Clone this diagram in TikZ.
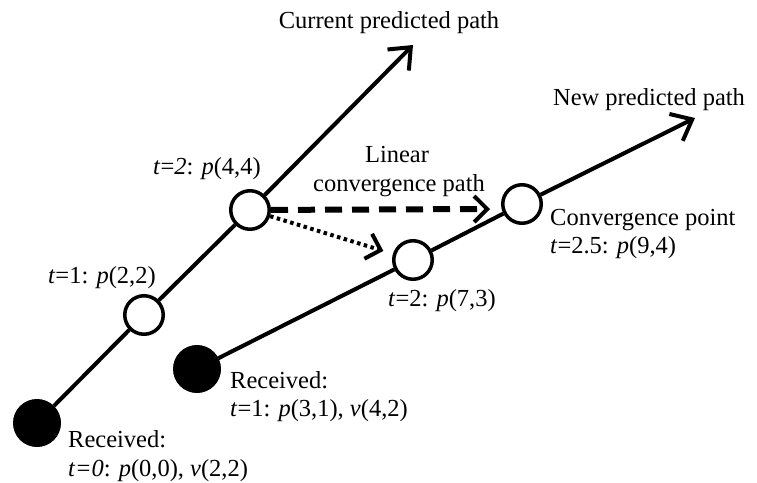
\documentclass[tikz,border=0pt]{standalone}
\usepackage{fontspec}
\setmainfont{Liberation Serif}
\usetikzlibrary{arrows.meta}
\begin{document}
\begin{tikzpicture}[x=1pt,y=-1pt,
  hollow/.style={circle, draw, line width=3.5pt, fill=white, minimum size=38.5pt, inner sep=0pt},
  recv/.style={circle, draw, fill=black, line width=1pt, minimum size=47pt, inner sep=0pt},
  trackline/.style={line width=4pt},
  bigtip/.style={-{Straight Barb[length=18pt,width=30pt,line width=4pt]}},
  smalltip/.style={-{Straight Barb[length=13pt,width=26pt,line width=4pt]}},
  lbl/.style={font=\fontsize{24.5}{28}\selectfont, inner sep=0pt},
]
\useasboundingbox (0,0) rectangle (757,482);

% nodes
\node[recv] (b1) at (37,423) {};
\node[hollow] (c1) at (144,315) {};
\node[hollow] (c2) at (250,210) {};
\coordinate (e1) at (413,45);
\node[recv] (b2) at (197,369) {};
\node[hollow] (c3) at (413,260) {};
\node[hollow] (c4) at (522,204) {};
\coordinate (e2) at (695,118);
\coordinate (d1) at (490,209);

% paths
\draw[trackline] (b1) -- (c1);
\draw[trackline] (c1) -- (c2);
\draw[trackline, bigtip] (c2) -- (e1);
\draw[trackline] (b2) -- (c3);
\draw[trackline] (c3) -- (c4);
\draw[trackline, bigtip] (c4) -- (e2);

\draw[line width=6pt, dash pattern=on 17pt off 10pt, smalltip] (c2) -- (d1);
\draw[line width=4pt, dash pattern=on 3.5pt off 3.5pt, smalltip, shorten >=10pt] (c2) -- (c3);

% labels
\node[lbl, anchor=base] (lcur) at (389,28) {Current predicted path};
\node[lbl, anchor=base] (lnew) at (649,105) {New predicted path};
\node[lbl, anchor=base west] (l44) at (153,174) {\textit{t}=\textit{2}: \textit{p}(4,4)};
\node[lbl, anchor=base west] (l22) at (48,283) {\textit{t}=1: \textit{p}(2,2)};
\node[lbl, anchor=base] (llin) at (397,162) {Linear};
\node[lbl, anchor=base] (lconv) at (399,191) {convergence path};
\node[lbl, anchor=base west] (lcp) at (550,225) {Convergence point};
\node[lbl, anchor=base west] (l94) at (550,253) {\textit{t}=2.5: \textit{p}(9,4)};
\node[lbl, anchor=base west] (l73) at (388,306) {\textit{t}=2: \textit{p}(7,3)};
\node[lbl, anchor=base west] (lr2) at (230,388) {Received:};
\node[lbl, anchor=base west] (lr2b) at (230,416) {\textit{t}=1: \textit{p}(3,1), \textit{v}(4,2)};
\node[lbl, anchor=base west] (lr1) at (68,447) {Received:};
\node[lbl, anchor=base west] (lr1b) at (68,476) {\textit{t=0}: \textit{p}(0,0), \textit{v}(2,2)};
\end{tikzpicture}
\end{document}
